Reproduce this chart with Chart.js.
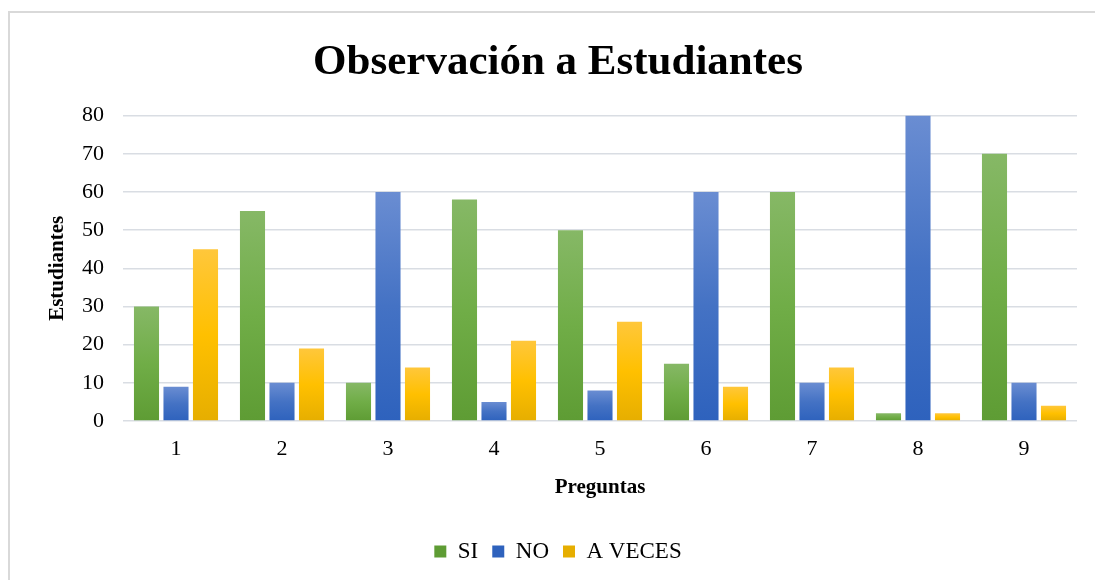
<!DOCTYPE html>
<html>
<head>
<meta charset="utf-8">
<script src="https://cdn.jsdelivr.net/npm/chart.js@4.4.1/dist/chart.umd.min.js"></script>
<style>
  html, body { margin: 0; padding: 0; background: #fff; overflow: hidden; }
  #wrap { position: relative; width: 1095px; height: 580px; }
  #frame { position: absolute; left: 8px; top: 11px; width: 1200px; height: 700px; border: 2px solid #d9d9d9; box-sizing: border-box; pointer-events: none; }
  canvas { position: absolute; left: 0; top: 0; }
</style>
</head>
<body>
<div id="wrap">
  <canvas id="c" width="1095" height="580"></canvas>
  <div id="frame"></div>
</div>
<script>
const categories = ['1', '2', '3', '4', '5', '6', '7', '8', '9'];
const seriesNames = ['SI', 'NO', 'A VECES'];
const siValues = [30, 55, 10, 58, 50, 15, 60, 2, 70];
const noValues = [9, 10, 60, 5, 8, 60, 10, 80, 10];
const aVecesValues = [45, 19, 14, 21, 26, 9, 14, 2, 4];
const yTicks = [0, 10, 20, 30, 40, 50, 60, 70, 80];

const FONT = "'Liberation Serif', 'Times New Roman', serif";

function gradFill(stops, solid) {
  return function (ctx) {
    const chart = ctx.chart;
    if (!chart.chartArea || ctx.type !== 'data' || ctx.raw == null) return solid;
    const y = chart.scales.y;
    const top = y.getPixelForValue(ctx.raw);
    const bottom = y.getPixelForValue(0);
    if (!isFinite(top) || !isFinite(bottom) || top === bottom) return solid;
    const g = chart.ctx.createLinearGradient(0, top, 0, bottom);
    g.addColorStop(0, stops[0]);
    g.addColorStop(0.5, stops[1]);
    g.addColorStop(1, stops[2]);
    return g;
  };
}

const common = { categoryPercentage: 0.835, barPercentage: 0.85, borderWidth: 0 };

new Chart(document.getElementById('c'), {
  type: 'bar',
  data: {
    labels: categories,
    datasets: [
      Object.assign({ label: seriesNames[0], data: siValues,
        backgroundColor: gradFill(['#86b866', '#70ad47', '#5e9c34'], '#70ad47') }, common),
      Object.assign({ label: seriesNames[1], data: noValues,
        backgroundColor: gradFill(['#6a8dd2', '#4472c4', '#2e62bd'], '#4472c4') }, common),
      Object.assign({ label: seriesNames[2], data: aVecesValues,
        backgroundColor: gradFill(['#ffc73b', '#ffc000', '#e6ae00'], '#ffc000') }, common)
    ]
  },
  options: {
    responsive: false,
    animation: false,
    devicePixelRatio: 1,
    layout: { padding: { left: 39, right: 18, top: 37, bottom: 7 } },
    plugins: {
      title: {
        display: true,
        text: 'Observación a Estudiantes',
        color: '#000',
        font: { family: FONT, size: 43, weight: 'bold' },
        padding: { top: 0, bottom: 27 }
      },
      legend: {
        position: 'bottom',
        labels: {
          color: '#000',
          font: { family: FONT, size: 23 },
          boxWidth: 12, boxHeight: 12, padding: 14
        }
      },
      tooltip: { enabled: false }
    },
    scales: {
      x: {
        grid: { display: false, drawTicks: false },
        border: { display: false },
        ticks: { color: '#000', font: { family: FONT, size: 22 }, padding: 15 },
        title: { display: true, text: 'Preguntas', color: '#000',
          font: { family: FONT, size: 21, weight: 'bold' }, padding: { top: 14, bottom: 26 } },
        afterFit: (s) => { s.height = 105; }
      },
      y: {
        min: 0, max: 80,
        afterBuildTicks: (s) => { s.ticks = yTicks.map(v => ({ value: v })); },
        grid: { color: '#d9dde3', lineWidth: 1.5, drawTicks: false },
        border: { display: false },
        ticks: { color: '#000', font: { family: FONT, size: 22 }, padding: 19 },
        title: { display: true, text: 'Estudiantes', color: '#000',
          font: { family: FONT, size: 21, weight: 'bold' }, padding: { top: 6, bottom: 0 } },
        afterFit: (s) => { s.width = 84; }
      }
    }
  }
});
</script>
</body>
</html>
